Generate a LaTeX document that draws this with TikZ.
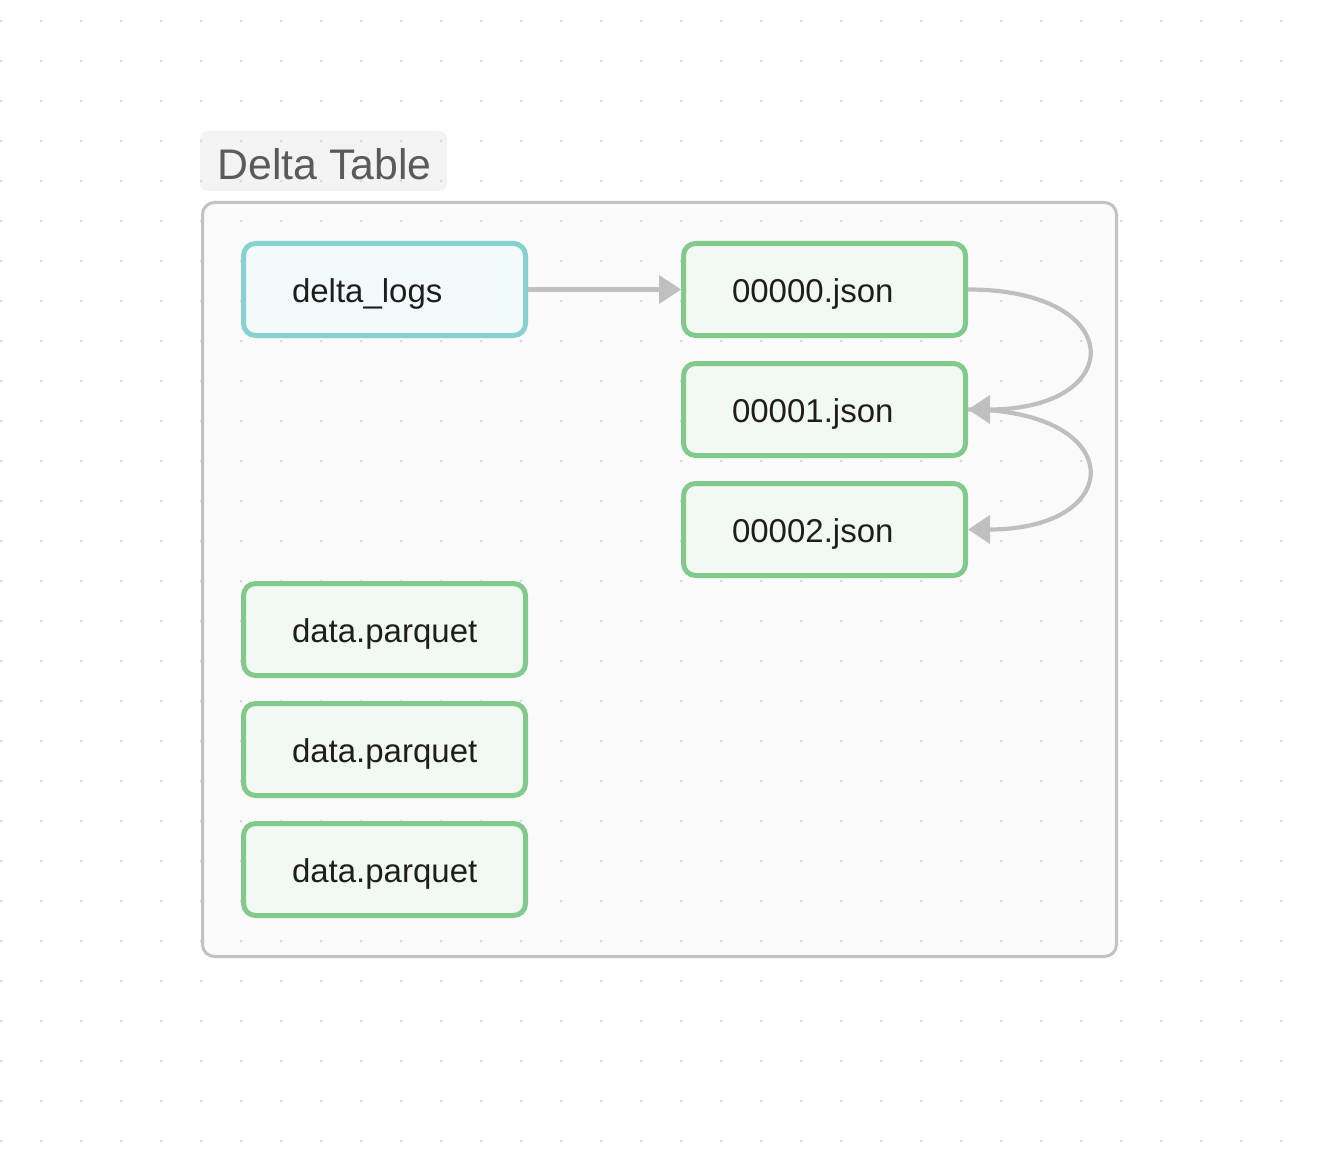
\documentclass[tikz,border=0pt]{standalone}
\usepackage{fontspec}
\setmainfont{Liberation Sans}
\usetikzlibrary{arrows.meta}
\definecolor{dotc}{HTML}{DADADA}
\definecolor{contfill}{HTML}{FAFAFA}
\definecolor{contline}{HTML}{C2C2C2}
\definecolor{titlefill}{HTML}{F3F3F3}
\definecolor{titletext}{HTML}{5A5A5A}
\definecolor{tealline}{HTML}{88D1D1}
\definecolor{tealfill}{HTML}{F2FAFA}
\definecolor{greenline}{HTML}{82CA8C}
\definecolor{greenfill}{HTML}{F2F9F2}
\definecolor{arrc}{HTML}{BFBFBF}
\definecolor{textc}{HTML}{1E1E1E}
\tikzset{
  filebox/.style={rectangle, rounded corners=6pt, line width=2.5pt,
    text width=92.5pt, inner xsep=24.25pt, inner ysep=0pt, minimum height=46pt,
    text height=13pt, text depth=0pt,
    align=left, text=textc, font=\fontsize{16.5}{20}\selectfont},
  logbox/.style={filebox, draw=tealline, fill=tealfill},
  greenbox/.style={filebox, draw=greenline, fill=greenfill},
  arr/.style={draw=arrc, line width=2.1pt, -{Triangle[length=11pt,width=14pt]}},
}
\begin{document}
\begin{tikzpicture}[x=0.5pt,y=-0.5pt]
\useasboundingbox[fill=white] (0,0) rectangle (1320,1160);
% title and container fills
\fill[titlefill, rounded corners=4pt] (200,131) rectangle (447,191);
\fill[contfill, rounded corners=6pt] (202.5,202.5) rectangle (1116.5,956.5);
% dot grid
\foreach \i in {0,...,32} {
  \foreach \j in {0,...,28} {
    \fill[dotc] (1+40*\i,21+40*\j) circle[radius=0.75pt];
  }
}
% title
\node[anchor=base west, inner sep=0pt, text=titletext, font=\fontsize{21.4}{25}\selectfont] (title) at (217,179.5) {Delta Table};
% container border
\draw[contline, line width=1.5pt, rounded corners=6pt] (202.5,202.5) rectangle (1116.5,956.5);
% nodes
\node[logbox] (logs) at (384.5,289.5) {delta\_logs};
\node[greenbox] (j0) at (824.5,289.5) {00000.json};
\node[greenbox] (j1) at (824.5,409.5) {00001.json};
\node[greenbox] (j2) at (824.5,529.5) {00002.json};
\node[greenbox] (p0) at (384.5,629.5) {data.parquet};
\node[greenbox] (p1) at (384.5,749.5) {data.parquet};
\node[greenbox] (p2) at (384.5,869.5) {data.parquet};
% connectors
\draw[arr] (logs.east) -- (j0.west);
\draw[arr] (j0.east) .. controls +(160,0) and +(160,0) .. (j1.east);
\draw[arr] (j1.east) .. controls +(160,0) and +(160,0) .. (j2.east);
\end{tikzpicture}
\end{document}
